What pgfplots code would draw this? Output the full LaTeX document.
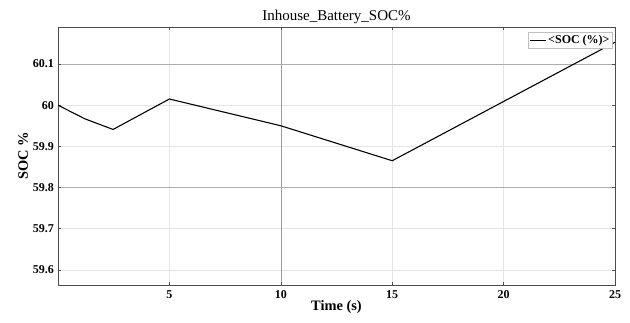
\documentclass[border=0pt]{standalone}
\usepackage{fontspec}
\setmainfont{Liberation Serif}
\usepackage{pgfplots}
\pgfplotsset{compat=1.18}
\begin{document}
\begin{tikzpicture}
\begin{axis}[
  name=ax,
  scale only axis,
  width=557bp, height=258bp,
  xmin=0, xmax=25,
  ymin=59.563, ymax=60.19,
  xtick={5,15,20,25},
  ytick={59.6,59.7,59.9,60.0},
  extra x ticks={10},
  extra y ticks={59.8,60.1},
  extra x tick style={grid style={gray!75,line width=0.5pt}},
  extra y tick style={grid style={gray!65,line width=0.5pt},yticklabel={\pgfmathprintnumber[fixed,precision=1]{\tick}}},
  yticklabel={\pgfmathprintnumber[fixed,precision=1]{\tick}},
  xmajorgrids, ymajorgrids,
  grid style={gray!20,line width=0.4pt},
  axis line style={gray!60!black,line width=0.6pt},
  tick style={gray!60!black,line width=0.5pt},
  major tick length=3bp,
  tick align=inside,
  /pgf/number format/assume math mode=true,
  ticklabel style={font=\fontsize{12bp}{14bp}\selectfont\bfseries},
  xticklabel style={yshift=-2bp},
  yticklabel style={xshift=-0.5bp},
  title={Inhouse\_Battery\_SOC\%},
  title style={font=\fontsize{15bp}{17bp}\selectfont, yshift=-6bp},
  xlabel={Time (s)},
  ylabel={SOC \%},
  label style={font=\fontsize{14.4bp}{16bp}\selectfont\bfseries},
  xlabel style={yshift=5bp},
  ylabel style={yshift=-2bp},
  legend style={at={(0.996,0.98)},anchor=north east,draw=gray!50,line width=0.4pt,
    font=\fontsize{12bp}{14bp}\selectfont\bfseries,inner sep=1pt,
    legend cell align=left},
  legend image post style={line width=1pt},
  legend image code/.code={\draw[#1] (0cm,0cm) -- (0.55cm,0cm);},
]
\addplot[black,line width=1.1pt] coordinates {
(0,60.000) (1.2,59.967) (2.47,59.941) (5,60.015) (10,59.950) (15,59.865) (20,60.009) (25,60.153)
};
\addlegendentry{<SOC (\%)>}
\end{axis}
\path (ax.south west) ++(-58bp,-38bp) coordinate (a);
\path (ax.north east) ++(15bp,27bp) coordinate (b);
\pgfresetboundingbox
\path (a) rectangle (b);
\end{tikzpicture}
\end{document}
